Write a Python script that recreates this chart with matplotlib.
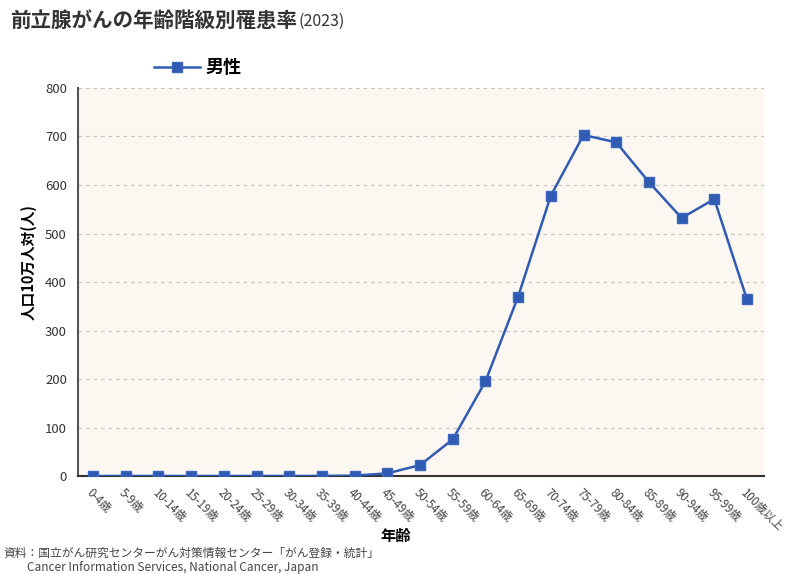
import matplotlib
matplotlib.use("Agg")
import matplotlib.pyplot as plt
from matplotlib.lines import Line2D

plt.rcParams['font.family'] = ['Noto Sans CJK JP', 'DejaVu Sans']

categories = ["0-4歳", "5-9歳", "10-14歳", "15-19歳", "20-24歳", "25-29歳", "30-34歳",
              "35-39歳", "40-44歳", "45-49歳", "50-54歳", "55-59歳", "60-64歳", "65-69歳",
              "70-74歳", "75-79歳", "80-84歳", "85-89歳", "90-94歳", "95-99歳", "100歳以上"]
male = [0, 0, 0, 0, 0, 0, 0, 0.2, 0.8, 5.5, 22.5, 75.5, 195, 370, 578, 703, 688, 606, 532, 571, 364]
yticks = [0, 100, 200, 300, 400, 500, 600, 700, 800]

color = '#2f5bb3'
fig = plt.figure(figsize=(8, 5.74), dpi=100)
ax = fig.add_axes([0.0975, 0.1707, 0.8575, 0.676])
ax.set_facecolor('#fdf7f1')
x = list(range(len(categories)))
ax.plot(x, male, color=color, lw=1.8, marker='s', ms=6.5, mec='#3a66c0', mfc=color, zorder=3)
ax.set_xlim(-0.46, 20.52)
ax.set_ylim(0, 800)
ax.set_yticks(yticks)
ax.set_yticklabels([str(v) for v in yticks], fontsize=9.5, color='#333333')
ax.set_xticks(x)
ax.set_xticklabels(categories, rotation=-45, ha='left', va='top', rotation_mode='anchor',
                   fontsize=8.3, color='#444444')
ax.tick_params(axis='x', length=0, pad=7)
ax.tick_params(axis='y', length=0, pad=8)
ax.grid(axis='y', color='#c8c8c8', ls=(0, (3, 3)), lw=0.9)
ax.set_axisbelow(True)
for s in ['top', 'right']:
    ax.spines[s].set_visible(False)
ax.spines['left'].set_color('#555555')
ax.spines['left'].set_linewidth(1.5)
ax.spines['bottom'].set_color('#333333')
ax.spines['bottom'].set_linewidth(1.5)

ax.set_ylabel('人口10万人対(人)', fontsize=10.5, fontweight='bold', va='center')
ax.yaxis.set_label_coords(-0.072, 0.552)
fig.text(0.494, 0.066, '年齢', fontsize=11, fontweight='bold', ha='center', va='center')

title = fig.text(0.012, 0.965, '前立腺がんの年齢階級別罹患率', fontsize=14.8, fontweight='bold',
                 color='#333333', ha='left', va='center')
fig.canvas.draw()
bb = title.get_window_extent(renderer=fig.canvas.get_renderer())
x_end = bb.x1 / fig.bbox.width
fig.text(x_end + 0.002, 0.962, '(2023)', fontsize=11.5, color='#333333', ha='left', va='center')

handle = Line2D([0], [0], color=color, lw=1.8, marker='s', ms=6.5, mfc=color, mec='#3a66c0')
fig.legend([handle], ['男性'], loc='center left', bbox_to_anchor=(0.193, 0.882), frameon=False,
           handlelength=2.5, handletextpad=0.35, borderpad=0, borderaxespad=0,
           prop={'size': 13, 'weight': 'bold'})

fig.text(0.004, 0.036, '資料：国立がん研究センターがん対策情報センター「がん登録・統計」', fontsize=8.5,
         color='#444444', ha='left', va='center')
fig.text(0.034, 0.012, 'Cancer Information Services, National Cancer, Japan', fontsize=8.5,
         color='#444444', ha='left', va='center')

fig.savefig('out.png', dpi=100)
